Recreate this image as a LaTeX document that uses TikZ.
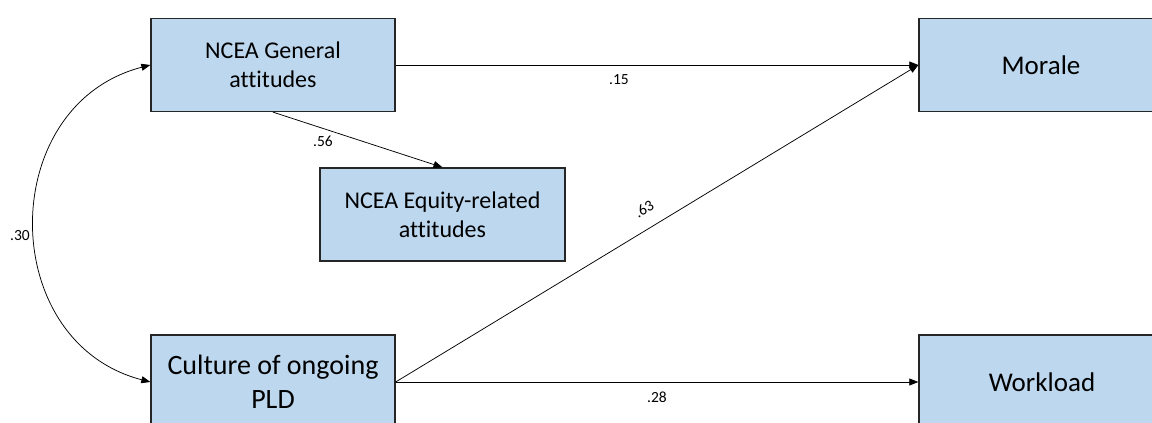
\documentclass[tikz,border=0pt]{standalone}
\usepackage{fontspec}
\setmainfont{Carlito}[Ligatures={NoCommon}]
\usetikzlibrary{arrows.meta}
\definecolor{boxblue}{RGB}{189,215,238}
\tikzset{
  box/.style={draw=black!85, line width=1.3pt, fill=boxblue, rectangle, inner sep=0pt,
    minimum width=244pt, minimum height=93pt, align=center, text=black},
  conn/.style={draw=black, line width=0.75pt, -{Triangle[length=9pt,width=7pt]}},
  coef/.style={font=\fontsize{15.5}{18}\selectfont, inner sep=0pt}
}
\begin{document}
\begin{tikzpicture}[x=1pt,y=-1pt]
\useasboundingbox (0,0) rectangle (1152,423);
\clip (0,0) rectangle (1152,423);
\node[box, font=\fontsize{24}{29}\selectfont] (gen) at (273,65) {NCEA General\\attitudes};
\node[box, minimum width=245pt, font=\fontsize{24}{29}\selectfont] (eq) at (442.5,214.5) {NCEA Equity-related\\attitudes};
\node[box, minimum height=94pt, font=\fontsize{28}{34}\selectfont] (cul) at (273,382) {Culture of ongoing\\PLD};
\node[box, font=\fontsize{27}{32}\selectfont] (mor) at (1041,65) {Morale};
\node[box, minimum width=246pt, minimum height=94pt, font=\fontsize{27}{32}\selectfont] (wl) at (1042,382) {Workload};

\draw[conn] (gen.east) -- (mor.west);
\draw[conn] (gen.south) -- (eq.north);
\draw[conn] (cul.east) -- (mor.west);
\draw[conn] (cul.east) -- (wl.west);
\draw[line width=0.75pt, {Triangle[length=9pt,width=7pt]}-{Triangle[length=9pt,width=7pt]}]
  (gen.west) .. controls (-4,105) and (-4,342) .. (cul.west);

\node[coef] (l15) at (619,80) {.15};
\node[coef] (l56) at (323,141) {.56};
\node[coef, rotate=31] (l63) at (644,209) {.63};
\node[coef] (l28) at (657,397) {.28};
\node[coef] (l30) at (20,236) {.30};
\end{tikzpicture}
\end{document}
